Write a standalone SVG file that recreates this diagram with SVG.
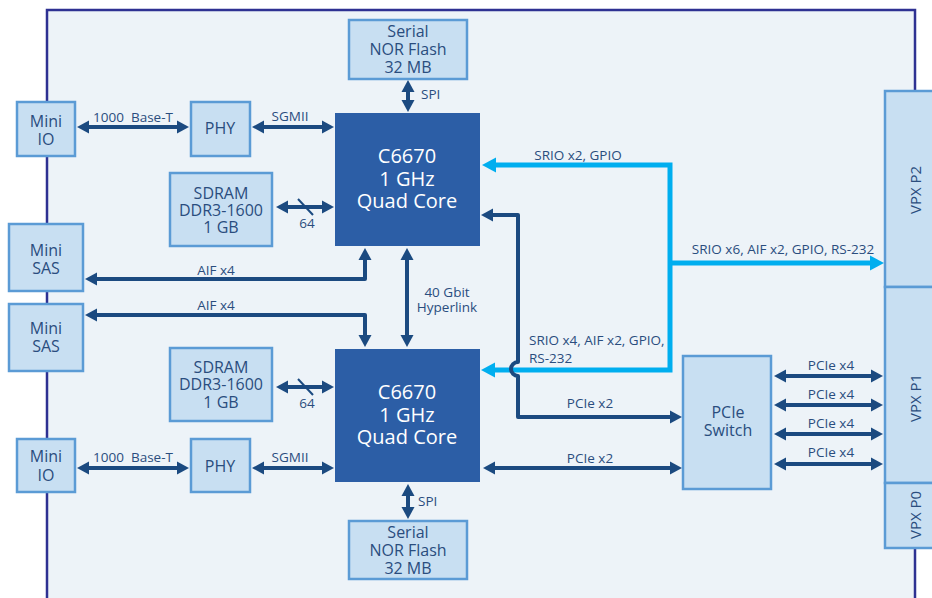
<svg xmlns="http://www.w3.org/2000/svg" width="932" height="598" viewBox="0 0 932 598">
<defs>
<style>
.box{fill:#c8dff2;stroke:#5b9bd5;stroke-width:2.5}
.cpu{fill:#2c5ea6}
.t{font-family:"Open Sans","Noto Sans",sans-serif;fill:#2a4d7e;text-anchor:middle}
.s{text-anchor:start}
.bt{font-size:16px}
.lt{font-size:13.5px;white-space:pre}
.ct{font-size:20px;fill:#ffffff}
.vt{font-size:15px}
.dk{fill:none;stroke:#1b4a80;stroke-width:4;stroke-linejoin:round}
.lb{fill:none;stroke:#00aeef;stroke-width:5;stroke-linejoin:miter}
.da{marker-start:url(#ad);marker-end:url(#ad)}
</style>
<marker id="ad" markerUnits="userSpaceOnUse" markerWidth="14" markerHeight="14" viewBox="0 -7 14 14" refX="4" refY="0" orient="auto-start-reverse"><path d="M0,-6.5 L12,0 L0,6.5 z" fill="#1b4a80"/></marker>
<marker id="al" markerUnits="userSpaceOnUse" markerWidth="16" markerHeight="16" viewBox="0 -8 16 16" refX="4" refY="0" orient="auto-start-reverse"><path d="M0,-7.5 L14,0 L0,7.5 z" fill="#00aeef"/></marker>
</defs>
<rect x="0" y="0" width="932" height="598" fill="#ffffff"/>
<rect id="board" x="47" y="10" width="868" height="620" fill="#edf3f8" stroke="#2e3192" stroke-width="2.5"/>

<g id="connectors">
<path class="dk da" d="M85,127 H181"/>
<path class="dk da" d="M260,127 H326"/>
<path class="dk da" d="M284,207 H326"/>
<line x1="298" y1="199" x2="313" y2="215" stroke="#1b4a80" stroke-width="2"/>
<path class="dk da" d="M408,88 V104"/>
<path class="dk da" d="M365,256 V279 H93"/>
<path class="dk da" d="M93,315 H365 V339"/>
<path class="dk da" d="M407,256 V339"/>
<path class="dk da" d="M284,387 H326"/>
<line x1="298" y1="379" x2="313" y2="395" stroke="#1b4a80" stroke-width="2"/>
<path class="dk da" d="M85,468 H181"/>
<path class="dk da" d="M260,468 H326"/>
<path class="dk da" d="M408,492 V511"/>
<path class="lb" marker-start="url(#al)" marker-end="url(#al)" d="M492,165 H670 V370 H491"/>
<path class="lb" marker-end="url(#al)" d="M670,263 H874"/>
<path class="dk da" d="M489,215 H518 V362 A7,7 0 0 0 518,376 V417 H674"/>
<path class="dk da" d="M491,468 H674"/>
<path class="dk da" d="M782,376 H875"/>
<path class="dk da" d="M782,405 H875"/>
<path class="dk da" d="M782,434 H875"/>
<path class="dk da" d="M782,464 H875"/>
<text class="t lt" x="133" y="122">1000  Base-T</text>
<text class="t lt" x="290" y="121">SGMII</text>
<text class="t lt" x="307" y="228">64</text>
<text class="t lt s" x="421" y="99">SPI</text>
<text class="t lt" x="216" y="275">AIF x4</text>
<text class="t lt" x="216" y="310">AIF x4</text>
<text class="t lt" x="447" y="297">40 Gbit</text>
<text class="t lt" x="447" y="312">Hyperlink</text>
<text class="t lt" x="307" y="408">64</text>
<text class="t lt" x="133" y="462">1000  Base-T</text>
<text class="t lt" x="290" y="462">SGMII</text>
<text class="t lt s" x="418" y="506">SPI</text>
<text class="t lt" x="578" y="160">SRIO x2, GPIO</text>
<text class="t lt" x="783" y="254">SRIO x6, AIF x2, GPIO, RS-232</text>
<text class="t lt s" x="529" y="345">SRIO x4, AIF x2, GPIO,</text>
<text class="t lt s" x="529" y="363">RS-232</text>
<text class="t lt" x="590" y="408">PCIe x2</text>
<text class="t lt" x="590" y="463">PCIe x2</text>
<text class="t lt" x="831" y="370">PCIe x4</text>
<text class="t lt" x="831" y="399">PCIe x4</text>
<text class="t lt" x="831" y="428">PCIe x4</text>
<text class="t lt" x="831" y="457">PCIe x4</text>
</g>

<g id="mini-io-top"><rect class="box" x="17" y="102" width="58" height="54"/><text class="t bt" x="46" y="127">Mini</text><text class="t bt" x="46" y="145">IO</text></g>
<g id="phy-top"><rect class="box" x="191" y="102" width="59" height="54"/><text class="t bt" x="220" y="134">PHY</text></g>
<g id="sdram-top"><rect class="box" x="170" y="173" width="102" height="73"/><text class="t bt" x="221" y="199">SDRAM</text><text class="t bt" x="221" y="216">DDR3-1600</text><text class="t bt" x="221" y="233">1 GB</text></g>
<g id="flash-top"><rect class="box" x="349" y="20" width="118" height="59"/><text class="t bt" x="408" y="37">Serial</text><text class="t bt" x="408" y="55">NOR Flash</text><text class="t bt" x="408" y="73">32 MB</text></g>
<g id="cpu-top"><rect class="cpu" x="335" y="113" width="145" height="133"/><text class="t ct" x="407" y="163">C6670</text><text class="t ct" x="407" y="186">1 GHz</text><text class="t ct" x="407" y="208">Quad Core</text></g>
<g id="mini-sas-1"><rect class="box" x="9" y="224" width="74" height="67"/><text class="t bt" x="46" y="256">Mini</text><text class="t bt" x="46" y="274">SAS</text></g>
<g id="mini-sas-2"><rect class="box" x="9" y="304" width="74" height="67"/><text class="t bt" x="46" y="334">Mini</text><text class="t bt" x="46" y="352">SAS</text></g>
<g id="sdram-bottom"><rect class="box" x="170" y="348" width="102" height="73"/><text class="t bt" x="221" y="373">SDRAM</text><text class="t bt" x="221" y="390">DDR3-1600</text><text class="t bt" x="221" y="408">1 GB</text></g>
<g id="cpu-bottom"><rect class="cpu" x="335" y="349" width="145" height="133"/><text class="t ct" x="407" y="399">C6670</text><text class="t ct" x="407" y="422">1 GHz</text><text class="t ct" x="407" y="444">Quad Core</text></g>
<g id="mini-io-bottom"><rect class="box" x="17" y="439" width="58" height="53"/><text class="t bt" x="46" y="462">Mini</text><text class="t bt" x="46" y="481">IO</text></g>
<g id="phy-bottom"><rect class="box" x="191" y="439" width="59" height="53"/><text class="t bt" x="220" y="472">PHY</text></g>
<g id="flash-bottom"><rect class="box" x="349" y="521" width="118" height="58"/><text class="t bt" x="408" y="538">Serial</text><text class="t bt" x="408" y="556">NOR Flash</text><text class="t bt" x="408" y="574">32 MB</text></g>
<g id="pcie-switch"><rect class="box" x="683" y="356" width="88" height="133"/><text class="t bt" x="728" y="418">PCIe</text><text class="t bt" x="728" y="436">Switch</text></g>
<g id="vpx-p2"><rect class="box" x="885" y="91" width="60" height="196"/><text class="t vt" transform="translate(921,190) rotate(-90)">VPX P2</text></g>
<g id="vpx-p1"><rect class="box" x="885" y="287" width="60" height="196"/><text class="t vt" transform="translate(921,398) rotate(-90)">VPX P1</text></g>
<g id="vpx-p0"><rect class="box" x="885" y="483" width="60" height="65"/><text class="t vt" transform="translate(921,515) rotate(-90)">VPX P0</text></g>
</svg>
